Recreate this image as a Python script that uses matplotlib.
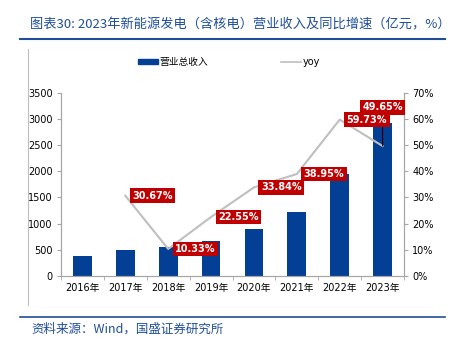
import matplotlib
matplotlib.use('Agg')
import matplotlib.pyplot as plt
import numpy as np
from matplotlib.lines import Line2D
from matplotlib.patches import Patch

plt.rcParams['font.family'] = ['DejaVu Sans', 'Noto Sans CJK SC']

years = ['2016年', '2017年', '2018年', '2019年', '2020年', '2021年', '2022年', '2023年']
revenue = [380, 490, 545, 668, 890, 1230, 1950, 2915]
yoy_years = [1, 2, 3, 4, 5, 6, 7]
yoy = [30.67, 10.33, 22.55, 33.84, 38.95, 59.73, 49.65]

blue = '#023F95'
grey = '#A6A6A6'
red = '#C00000'
title_blue = '#1F4E9A'

fig = plt.figure(figsize=(4.62, 3.42), dpi=100)
ax = fig.add_axes([61 / 462, 1 - 276 / 342, 343 / 462, 183.3 / 342])
ax2 = ax.twinx()

x = np.arange(len(years))
ax.bar(x, revenue, width=0.44, color=blue, zorder=2)
ax.set_xlim(-0.5, 7.5)
ax.set_ylim(0, 3500)
ax.set_yticks(np.arange(0, 3501, 500))
ax.set_xticks(x)
ax.set_xticklabels(years)
ax.set_xticks(np.arange(-0.5, 8, 1), minor=True)
ax.tick_params(axis='x', which='major', length=0, pad=5, labelsize=7)
ax.tick_params(axis='x', which='minor', length=3, color=grey)
ax.tick_params(axis='y', length=3, color=grey, labelsize=7, pad=3)

ax2.plot(yoy_years, yoy, color='#BFBFBF', lw=1.5, zorder=3)
ax2.set_ylim(0, 70)
ax2.set_yticks(np.arange(0, 71, 10))
ax2.set_yticklabels([f'{v}%' for v in range(0, 71, 10)])
ax2.tick_params(axis='y', length=3, color=grey, labelsize=7, pad=3)

for a in (ax, ax2):
    a.spines['top'].set_visible(False)
    for s in ('left', 'right', 'bottom'):
        a.spines[s].set_color(grey)
        a.spines[s].set_linewidth(0.8)

box = dict(boxstyle='square,pad=0.25', fc=red, ec='none')
# 2023 label sits above the bar with a leader line
ax2.annotate(f'{yoy[-1]:.2f}%', xy=(yoy_years[-1], yoy[-1]), xytext=(0, 28),
             textcoords='offset points', ha='center', va='center', color='white',
             fontsize=7, fontweight='bold', bbox=box,
             arrowprops=dict(arrowstyle='-', color='black', lw=0.8, shrinkA=0, shrinkB=0))
for xi, v in zip(yoy_years[:-1], yoy[:-1]):
    ax2.annotate(f'{v:.2f}%', xy=(xi, v), xytext=(5, 0), textcoords='offset points',
                 ha='left', va='center', color='white', fontsize=7,
                 fontweight='bold', bbox=box)

handles = [Patch(color=blue), Line2D([0], [0], color='#BFBFBF', lw=1.2)]
fig.legend(handles, ['营业总收入', 'yoy'], loc='center', bbox_to_anchor=(229 / 462, 1 - 62 / 342),
           ncol=2, frameon=False, fontsize=7, handlelength=2.0, handleheight=0.5,
           columnspacing=7.5, handletextpad=0.2)

fig.text(30 / 462, 1 - 25 / 342, '图表30: 2023年新能源发电（含核电）营业收入及同比增速（亿元，%）',
         color=title_blue, fontsize=9.5, style='italic', va='center',
         family=['Noto Sans CJK SC', 'DejaVu Sans'])
fig.add_artist(Line2D([20 / 462, 445 / 462], [1 - 38.5 / 342] * 2, color=title_blue, lw=1.5))
fig.add_artist(Line2D([20 / 462, 445 / 462], [1 - 316.5 / 342] * 2, color=title_blue, lw=1.2))
fig.add_artist(Line2D([28 / 462] * 2, [1 - 49 / 342, 1 - 305 / 342], color='#BFBFBF', lw=0.8))
fig.text(31 / 462, 1 - 329 / 342, '资料来源：Wind，国盛证券研究所', color=title_blue,
         fontsize=9, style='italic', va='center', family=['Noto Sans CJK SC', 'DejaVu Sans'])

fig.savefig('out.png', dpi=100)
